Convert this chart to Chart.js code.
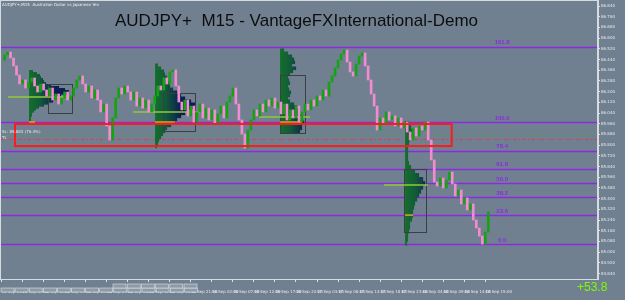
<!DOCTYPE html>
<html>
<head>
<meta charset="utf-8">
<script src="https://cdn.jsdelivr.net/npm/chart.js@4/dist/chart.umd.min.js"></script>
<style>
html, body { margin: 0; padding: 0; background: #708090; }
</style>
</head>
<body>
<canvas id="graphAudJpy" width="625" height="300"></canvas>
<script>
//AUDJPY+ M15 - clôtures (une barre = un point)
var closes = [
    86.436, 86.474, 86.496, 86.451, 86.392, 86.324, 86.257, 86.287, 86.227, 86.272,
    86.302, 86.242, 86.197, 86.257, 86.212, 86.167, 86.227, 86.137, 86.182, 86.107,
    86.152, 86.197, 86.137, 86.167, 86.227, 86.287, 86.317, 86.257, 86.197, 86.242,
    86.152, 86.212, 86.137, 86.048, 86.107, 85.943, 85.838, 86.003, 86.152, 86.227,
    86.182, 86.242, 86.197, 86.137, 86.197, 86.092, 86.152, 86.077, 86.137, 86.048,
    86.107, 86.167, 86.242, 86.212, 86.302, 86.257, 86.347, 86.362, 86.242, 86.122,
    86.063, 86.137, 86.018, 86.092, 85.973, 86.048, 86.107, 86.003, 86.077, 85.988,
    86.063, 85.958, 86.033, 86.092, 86.003, 86.122, 86.167, 86.227, 86.107, 85.988,
    85.883, 85.778, 85.913, 85.988, 86.063, 86.018, 86.107, 86.048, 86.137, 86.092,
    86.152, 86.077, 86.122, 86.033, 86.107, 85.988, 86.063, 86.003, 86.092, 85.973,
    86.048, 86.107, 86.063, 86.137, 86.092, 86.167, 86.137, 86.212, 86.167, 86.272,
    86.317, 86.377, 86.436, 86.481, 86.511, 86.421, 86.347, 86.317, 86.406, 86.466,
    86.489, 86.392, 86.287, 86.182, 86.092, 85.913, 86.003, 85.958, 86.048, 85.988,
    86.018, 85.943, 86.003, 85.928, 85.973, 85.898, 85.838, 85.928, 85.868, 85.943,
    85.913, 85.973, 85.838, 85.689, 85.524, 85.494, 85.554, 85.479, 85.539, 85.599,
    85.509, 85.420, 85.464, 85.360, 85.405, 85.315, 85.360, 85.240, 85.180, 85.120,
    85.060, 85.150, 85.300
];

//Axe du temps - un libellé toutes les 7 barres
var timeLabels = [
    '14 Sep 2015', '14 Sep 05:00', '14 Sep 10:00', '14 Sep 15:00', '14 Sep 20:00', '15 Sep 01:00',
    '15 Sep 06:00', '15 Sep 11:00', '15 Sep 16:00', '15 Sep 21:00', '16 Sep 02:00', '16 Sep 07:00',
    '16 Sep 12:00', '16 Sep 17:00', '16 Sep 22:00', '17 Sep 03:00', '17 Sep 08:00', '17 Sep 13:00',
    '17 Sep 18:00', '17 Sep 23:00', '18 Sep 04:00', '18 Sep 09:00', '18 Sep 14:00', '18 Sep 19:00'
];

//Axe des prix
var priceTicks = [
    86.84, 86.76, 86.68, 86.60, 86.52, 86.44, 86.36, 86.28, 86.20, 86.12, 86.04, 85.96, 85.88,
    85.80, 85.72, 85.64, 85.56, 85.48, 85.40, 85.32, 85.24, 85.16, 85.08, 85.00, 84.92, 84.84
];
var priceMin = 84.799;
var priceMax = 86.885;

//Fibonacci
var fibLevels = [0.0, 23.6, 38.2, 50.0, 61.8, 76.4, 100.0, 161.8];
var fibLow = 85.06;
var fibHigh = 85.973;

//Zone rouge + lignes SL / TL
var zoneBars = [4.5, 149.8];
var zonePrices = [85.958, 85.793];
var slPrice = 85.883;
var tlPrice = 85.845;

//Profils de volume
var profileStart = [9.15, 51.1, 92.7, 134.3];
var profileTop = [86.354, 86.399, 86.511, 85.965];
var profileBottom = [85.980, 85.793, 85.906, 85.068];
var profileVol1 = [4, 8, 11, 12, 14, 15, 17, 22, 30, 36, 40, 38, 32, 28, 25, 24, 20, 15, 10, 7, 5, 3, 3, 2, 2, 2];
var profileVol2 = [3, 6, 9, 10, 12, 13, 14, 15, 18, 22, 26, 30, 36, 40, 38, 34, 30, 26, 22, 20, 16, 12, 10, 8, 6, 4, 3, 2];
var profileVol3 = [4, 8, 12, 14, 15, 12, 16, 13, 10, 8, 9, 10, 8, 9, 11, 10, 8, 10, 14, 17, 20, 18, 22, 20, 24, 22, 22, 20];
var profileVol4 = [4, 6, 8, 7, 5, 4, 3, 3, 3, 3, 4, 6, 10, 14, 18, 20, 18, 16, 14, 12, 10, 9, 8, 8, 7, 5, 5, 4, 3, 3, 2];
var profileVols = [profileVol1, profileVol2, profileVol3, profileVol4];

//Cadres des profils [barre début, barre fin] / [prix haut, prix bas]
var boxBars = [[15.5, 23.5], [53.7, 64.4], [92.7, 101.0], [134.0, 141.3]];
var boxPrices = [[86.257, 86.040], [86.190, 85.906], [86.324, 85.891], [85.621, 85.150]];

//Lignes POC (orange) et extensions (vert clair) [prix, barre début, barre fin]
var pocLines = [[85.973, 9.15, 11.15], [85.973, 51.1, 57.7], [85.973, 92.7, 100.0], [85.277, 134.3, 137.0]];
var vahLines = [[86.160, 2.2, 23.5], [86.048, 43.8, 66.1], [86.010, 85.7, 102.7], [85.502, 127.3, 141.9]];

var profit = '+53.8';

//------------------------------------------------------------------------------------------------------------------------
var nbSlots = 199;
var volScale = 1 / 3;
var slots = [];
for (var s = 0; s < nbSlots; s++) { slots.push(s); }

var bodies = [];
var bodyColors = [];
for (var i = 0; i < closes.length; i++) {
    if (i == 0) {
        bodies.push(null);
        bodyColors.push('#13a313');
        continue;
    }
    bodies.push([closes[i - 1], closes[i]]);
    bodyColors.push(closes[i] >= closes[i - 1] ? '#13a313' : '#f08ccf');
}

function hLine(ctx, area, y, color, width, dash) {
    ctx.save();
    ctx.strokeStyle = color;
    ctx.lineWidth = width;
    ctx.setLineDash(dash || []);
    ctx.beginPath();
    ctx.moveTo(area.left, y);
    ctx.lineTo(area.right, y);
    ctx.stroke();
    ctx.restore();
}

var mtPlugin = {
    id: 'mtDecor',
    beforeDraw: function (chart) {
        var ctx = chart.ctx;
        ctx.save();
        ctx.fillStyle = '#708090';
        ctx.fillRect(0, 0, chart.width, chart.height);
        ctx.restore();
    },
    beforeDatasetsDraw: function (chart) {
        var ctx = chart.ctx;
        var area = chart.chartArea;
        var xs = chart.scales.x;
        var ys = chart.scales.y;

        //Fibo
        for (var f = 0; f < fibLevels.length; f++) {
            var p = fibLow + (fibHigh - fibLow) * fibLevels[f] / 100;
            hLine(ctx, area, Math.round(ys.getPixelForValue(p)) + 0.5, '#8a2be2', 1.6);
        }
        hLine(ctx, area, Math.round(ys.getPixelForValue(slPrice)) + 0.5, '#3fae3f', 1, [1, 2]);
        hLine(ctx, area, Math.round(ys.getPixelForValue(tlPrice)) + 0.5, '#d8405a', 1, [4, 2, 1, 2]);

        //Profils
        for (var k = 0; k < profileVols.length; k++) {
            var vols = profileVols[k];
            var x0 = xs.getPixelForValue(profileStart[k]);
            var yTop = ys.getPixelForValue(profileTop[k]);
            var yBot = ys.getPixelForValue(profileBottom[k]);
            var step = (yBot - yTop) / (vols.length - 1);
            var grad = ctx.createLinearGradient(x0, 0, x0 + 26, 0);
            grad.addColorStop(0, '#12702a');
            grad.addColorStop(0.4, '#135a3a');
            grad.addColorStop(1, '#0b1d52');
            ctx.save();
            ctx.fillStyle = grad;
            for (var r = 0; r < vols.length; r++) {
                var x1 = xs.getPixelForValue(profileStart[k] + vols[r] * volScale);
                ctx.fillRect(x0, yTop + r * step - step / 2, x1 - x0, step + 0.6);
            }
            ctx.restore();
        }

        //Cadres
        ctx.save();
        ctx.strokeStyle = '#3a3f44';
        ctx.lineWidth = 1;
        for (var b = 0; b < boxBars.length; b++) {
            var bx0 = Math.round(xs.getPixelForValue(boxBars[b][0])) + 0.5;
            var bx1 = Math.round(xs.getPixelForValue(boxBars[b][1])) + 0.5;
            var by0 = Math.round(ys.getPixelForValue(boxPrices[b][0])) + 0.5;
            var by1 = Math.round(ys.getPixelForValue(boxPrices[b][1])) + 0.5;
            ctx.strokeRect(bx0, by0, bx1 - bx0, by1 - by0);
        }
        ctx.restore();

        //POC + extensions
        ctx.save();
        ctx.lineWidth = 1.5;
        for (var q = 0; q < vahLines.length; q++) {
            ctx.strokeStyle = '#8fca3a';
            var vy = ys.getPixelForValue(vahLines[q][0]);
            ctx.beginPath();
            ctx.moveTo(xs.getPixelForValue(vahLines[q][1]), vy);
            ctx.lineTo(xs.getPixelForValue(vahLines[q][2]), vy);
            ctx.stroke();
            ctx.strokeStyle = '#e5a12a';
            var py = ys.getPixelForValue(pocLines[q][0]);
            ctx.beginPath();
            ctx.moveTo(xs.getPixelForValue(pocLines[q][1]), py);
            ctx.lineTo(xs.getPixelForValue(pocLines[q][2]), py);
            ctx.stroke();
        }
        ctx.restore();
    },
    afterDatasetsDraw: function (chart) {
        var ctx = chart.ctx;
        var area = chart.chartArea;
        var xs = chart.scales.x;
        var ys = chart.scales.y;

        //Zone rouge
        ctx.save();
        ctx.strokeStyle = '#ff1a1a';
        ctx.lineWidth = 2;
        var zx0 = xs.getPixelForValue(zoneBars[0]);
        var zx1 = xs.getPixelForValue(zoneBars[1]);
        var zy0 = ys.getPixelForValue(zonePrices[0]);
        var zy1 = ys.getPixelForValue(zonePrices[1]);
        ctx.strokeRect(zx0, zy0, zx1 - zx0, zy1 - zy0);
        ctx.restore();

        //Libellés fibo
        ctx.save();
        ctx.fillStyle = '#8a2be2';
        ctx.font = 'bold 6px "Liberation Sans", Arial, sans-serif';
        ctx.textAlign = 'center';
        ctx.textBaseline = 'bottom';
        for (var f = 0; f < fibLevels.length; f++) {
            var p = fibLow + (fibHigh - fibLow) * fibLevels[f] / 100;
            ctx.fillText(fibLevels[f].toFixed(1), xs.getPixelForValue(166.6), ys.getPixelForValue(p) - 1);
        }
        ctx.restore();

        //Texte SL
        ctx.save();
        ctx.fillStyle = '#e6e6e6';
        ctx.font = '4px "DejaVu Sans", sans-serif';
        ctx.textBaseline = 'middle';
        ctx.fillText('SL: ' + slPrice.toFixed(3) + ' (76.4%)', 2, ys.getPixelForValue(slPrice) - 2);
        ctx.fillText('TL', 2, ys.getPixelForValue(tlPrice) - 1);
        ctx.restore();

        //Cadre du graphique
        ctx.save();
        ctx.strokeStyle = '#d6dbe0';
        ctx.lineWidth = 1;
        ctx.strokeRect(area.left + 0.5, area.top + 0.5, area.right - area.left - 1, area.bottom - area.top);
        ctx.restore();
    },
    afterDraw: function (chart) {
        var ctx = chart.ctx;
        ctx.save();
        ctx.fillStyle = '#eef0f2';
        ctx.font = '4px "DejaVu Sans", sans-serif';
        ctx.textBaseline = 'top';
        ctx.fillText('AUDJPY+,M15  Australian Dollar vs Japanese Yen', 2, 3);

        ctx.fillStyle = '#0d0d0d';
        ctx.font = '17px "Liberation Sans", Arial, sans-serif';
        ctx.textBaseline = 'alphabetic';
        ctx.fillText('AUDJPY+  M15 - VantageFXInternational-Demo', 115, 26);

        ctx.fillStyle = '#7cfc00';
        ctx.font = '12px "Liberation Sans", Arial, sans-serif';
        ctx.fillText(profit, 577, 291);

        //petites cases en bas
        ctx.strokeStyle = '#dfe3e7';
        ctx.fillStyle = '#8d99a5';
        ctx.lineWidth = 0.6;
        for (var c = 0; c < 14; c++) {
            ctx.fillRect(1 + c * 14.1, 288, 13, 4);
            ctx.strokeRect(1 + c * 14.1, 288, 13, 4);
        }
        for (var d = 0; d < 6; d++) {
            ctx.fillRect(113 + d * 14.2, 284, 13, 4);
            ctx.strokeRect(113 + d * 14.2, 284, 13, 4);
        }
        ctx.restore();
    }
};

var ctx = document.getElementById('graphAudJpy').getContext('2d');
var chart = new Chart(ctx, {
    type: 'bar',
    data: {
        labels: slots,
        datasets: [{
            data: bodies,
            backgroundColor: bodyColors,
            barThickness: 2,
            minBarLength: 1,
            borderWidth: 0,
            label: 'AUDJPY+'
        }]
    },
    options: {
        responsive: false,
        animation: false,
        layout: { padding: 0 },
        plugins: {
            legend: { display: false },
            tooltip: { enabled: false }
        },
        scales: {
            x: {
                offset: true,
                grid: {
                    offset: false,
                    drawOnChartArea: false,
                    tickLength: 3,
                    color: function (c) {
                        return (c.index % 7 === 0 && c.index / 7 < timeLabels.length) ? '#dfe3e7' : 'rgba(0,0,0,0)';
                    }
                },
                border: { display: true, color: '#d6dbe0' },
                ticks: {
                    autoSkip: false,
                    maxRotation: 0,
                    minRotation: 0,
                    align: 'start',
                    padding: 8,
                    color: '#e6e9ec',
                    font: { size: 4, family: 'DejaVu Sans' },
                    callback: function (value, index) {
                        return index % 7 === 0 ? (timeLabels[index / 7] || '') : '';
                    }
                },
                afterFit: function (scale) {
                    scale.height = 21;
                    scale.paddingLeft = 0;
                    scale.paddingRight = 0;
                }
            },
            y: {
                position: 'right',
                min: priceMin,
                max: priceMax,
                grid: { drawOnChartArea: false, tickLength: 2, color: '#dfe3e7' },
                border: { display: true, color: '#d6dbe0' },
                afterBuildTicks: function (scale) {
                    scale.ticks = priceTicks.map(function (v) { return { value: v }; });
                },
                ticks: {
                    padding: 1,
                    color: '#e6e9ec',
                    font: { size: 4, family: 'DejaVu Sans' },
                    callback: function (value) { return value.toFixed(3); }
                },
                afterFit: function (scale) {
                    scale.width = 27;
                    scale.paddingTop = 0;
                    scale.paddingBottom = 0;
                }
            }
        }
    },
    plugins: [mtPlugin]
});
</script>
</body>
</html>
